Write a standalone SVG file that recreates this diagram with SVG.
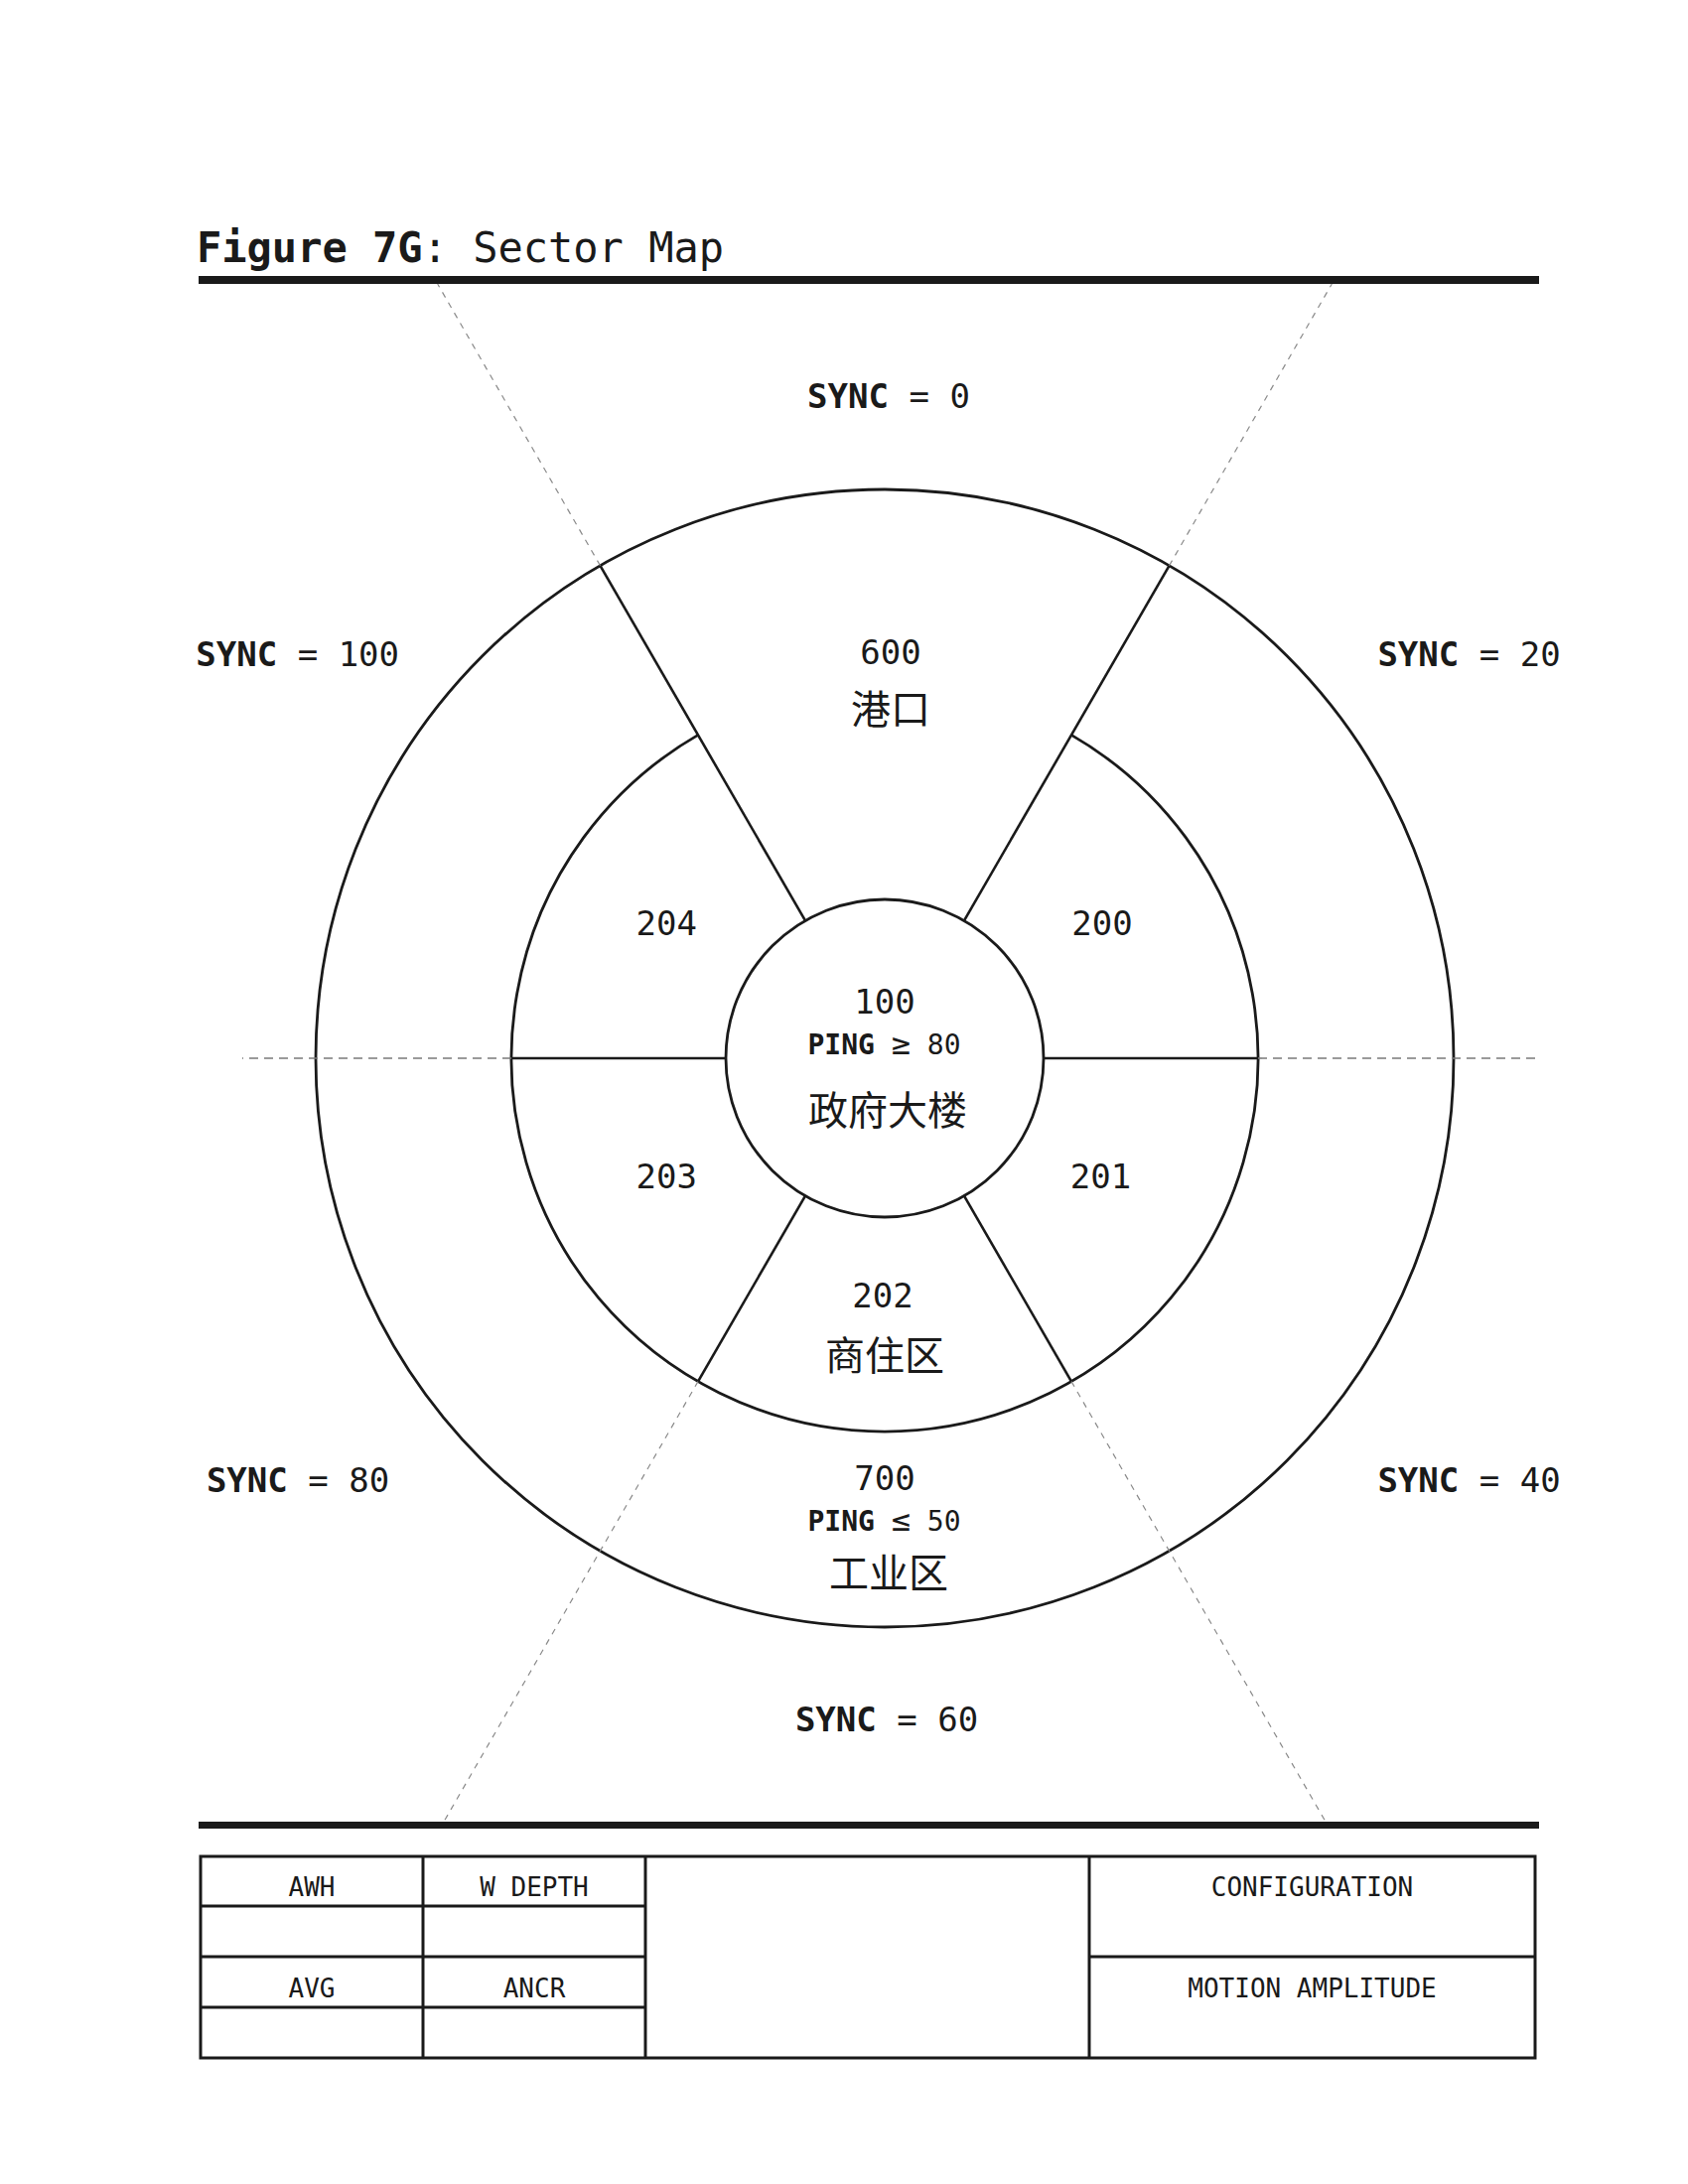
<svg xmlns="http://www.w3.org/2000/svg" width="1700" height="2200" viewBox="0 0 1700 2200">
<style>
  .mono { font-family: "DejaVu Sans Mono", "Liberation Mono", monospace; fill: #1a1a1a; }
  .b { font-weight: bold; }
  .title { font-size: 42px; }
  .sync { font-size: 34px; text-anchor: middle; }
  .num { font-size: 34px; text-anchor: middle; }
  .ping { font-size: 28px; text-anchor: middle; }
  .rel { font-size: 32px; }
  .cjk { font-family: "Noto Sans CJK SC", "Noto Sans CJK TC", sans-serif; font-size: 40px; fill: #1a1a1a; text-anchor: middle; }
  .cell { font-size: 26px; text-anchor: middle; }
  .ring { fill: none; stroke: #1a1a1a; stroke-width: 2.8; }
  .spoke { fill: none; stroke: #1a1a1a; stroke-width: 2.6; }
  .dashd { fill: none; stroke: #8a8a8a; stroke-width: 1.2; stroke-dasharray: 6 6; }
  .dashh { fill: none; stroke: #7a7a7a; stroke-width: 1.6; stroke-dasharray: 9 6; }
  .tbl { fill: none; stroke: #1a1a1a; stroke-width: 3; }
  .rule { fill: #1a1a1a; }
</style>

<g id="title">
  <text class="mono title" x="198" y="264"><tspan class="b">Figure 7G</tspan>: Sector Map</text>
  <rect class="rule" x="200" y="278" width="1350" height="8"/>
</g>

<g id="rings">
  <circle class="ring" cx="891" cy="1066" r="573"/>
  <path class="ring" d="M 1079 740.4 A 376 376 0 1 1 703 740.4"/>
  <circle class="ring" cx="891" cy="1066" r="160"/>
</g>

<g id="connectors">
  <line class="spoke" x1="811" y1="927.4" x2="604.5" y2="569.8"/>
  <line class="spoke" x1="971" y1="927.4" x2="1177.5" y2="569.8"/>
  <line class="spoke" x1="731" y1="1066" x2="515" y2="1066"/>
  <line class="spoke" x1="1051" y1="1066" x2="1267" y2="1066"/>
  <line class="spoke" x1="811" y1="1204.6" x2="703" y2="1391.6"/>
  <line class="spoke" x1="971" y1="1204.6" x2="1079" y2="1391.6"/>
  <line class="dashd" x1="604.5" y1="569.8" x2="440.7" y2="286"/>
  <line class="dashd" x1="1177.5" y1="569.8" x2="1341.3" y2="286"/>
  <line class="dashd" x1="703" y1="1391.6" x2="447" y2="1835"/>
  <line class="dashd" x1="1079" y1="1391.6" x2="1335" y2="1835"/>
  <line class="dashh" x1="515" y1="1066" x2="244" y2="1066"/>
  <line class="dashh" x1="1267" y1="1066" x2="1550" y2="1066"/>
</g>

<g id="sync-labels">
  <text class="mono sync" x="895" y="411"><tspan class="b">SYNC</tspan> = 0</text>
  <text class="mono sync" x="1479.5" y="670.7"><tspan class="b">SYNC</tspan> = 20</text>
  <text class="mono sync" x="1479.5" y="1502.5"><tspan class="b">SYNC</tspan> = 40</text>
  <text class="mono sync" x="893" y="1744"><tspan class="b">SYNC</tspan> = 60</text>
  <text class="mono sync" x="300" y="1502.5"><tspan class="b">SYNC</tspan> = 80</text>
  <text class="mono sync" x="299.7" y="670.7"><tspan class="b">SYNC</tspan> = 100</text>
</g>

<g id="sector-600">
  <text class="mono num" x="897" y="669">600</text>
  <text class="cjk" x="897" y="729">港口</text>
</g>
<g id="sector-100">
  <text class="mono num" x="891" y="1021.3">100</text>
  <text class="mono ping" x="890.5" y="1061.7"><tspan class="b">PING</tspan> <tspan class="rel">≥</tspan> 80</text>
  <text class="cjk" x="894" y="1133">政府大楼</text>
</g>
<g id="sector-200">
  <text class="mono num" x="1110" y="941.7">200</text>
</g>
<g id="sector-201">
  <text class="mono num" x="1108.5" y="1196.7">201</text>
</g>
<g id="sector-202">
  <text class="mono num" x="889" y="1316.7">202</text>
  <text class="cjk" x="891" y="1380">商住区</text>
</g>
<g id="sector-203">
  <text class="mono num" x="671.3" y="1196.7">203</text>
</g>
<g id="sector-204">
  <text class="mono num" x="671.3" y="941.7">204</text>
</g>
<g id="sector-700">
  <text class="mono num" x="891" y="1500.7">700</text>
  <text class="mono ping" x="890.5" y="1541.7"><tspan class="b">PING</tspan> <tspan class="rel">≤</tspan> 50</text>
  <text class="cjk" x="895" y="1599">工业区</text>
</g>

<g id="bottom-rule">
  <rect class="rule" x="200" y="1835" width="1350" height="7"/>
</g>

<g id="table">
  <rect class="tbl" x="202" y="1870" width="1344" height="203"/>
  <line class="tbl" x1="426" y1="1870" x2="426" y2="2073"/>
  <line class="tbl" x1="650" y1="1870" x2="650" y2="2073"/>
  <line class="tbl" x1="1097" y1="1870" x2="1097" y2="2073"/>
  <line class="tbl" x1="202" y1="1920" x2="650" y2="1920"/>
  <line class="tbl" x1="202" y1="1971" x2="650" y2="1971"/>
  <line class="tbl" x1="202" y1="2022" x2="650" y2="2022"/>
  <line class="tbl" x1="1097" y1="1971" x2="1546" y2="1971"/>
  <text class="mono cell" x="314" y="1910">AWH</text>
  <text class="mono cell" x="538" y="1910">W DEPTH</text>
  <text class="mono cell" x="314" y="2012">AVG</text>
  <text class="mono cell" x="538" y="2012">ANCR</text>
  <text class="mono cell" x="1321.5" y="1910">CONFIGURATION</text>
  <text class="mono cell" x="1321.5" y="2012">MOTION AMPLITUDE</text>
</g>
</svg>
